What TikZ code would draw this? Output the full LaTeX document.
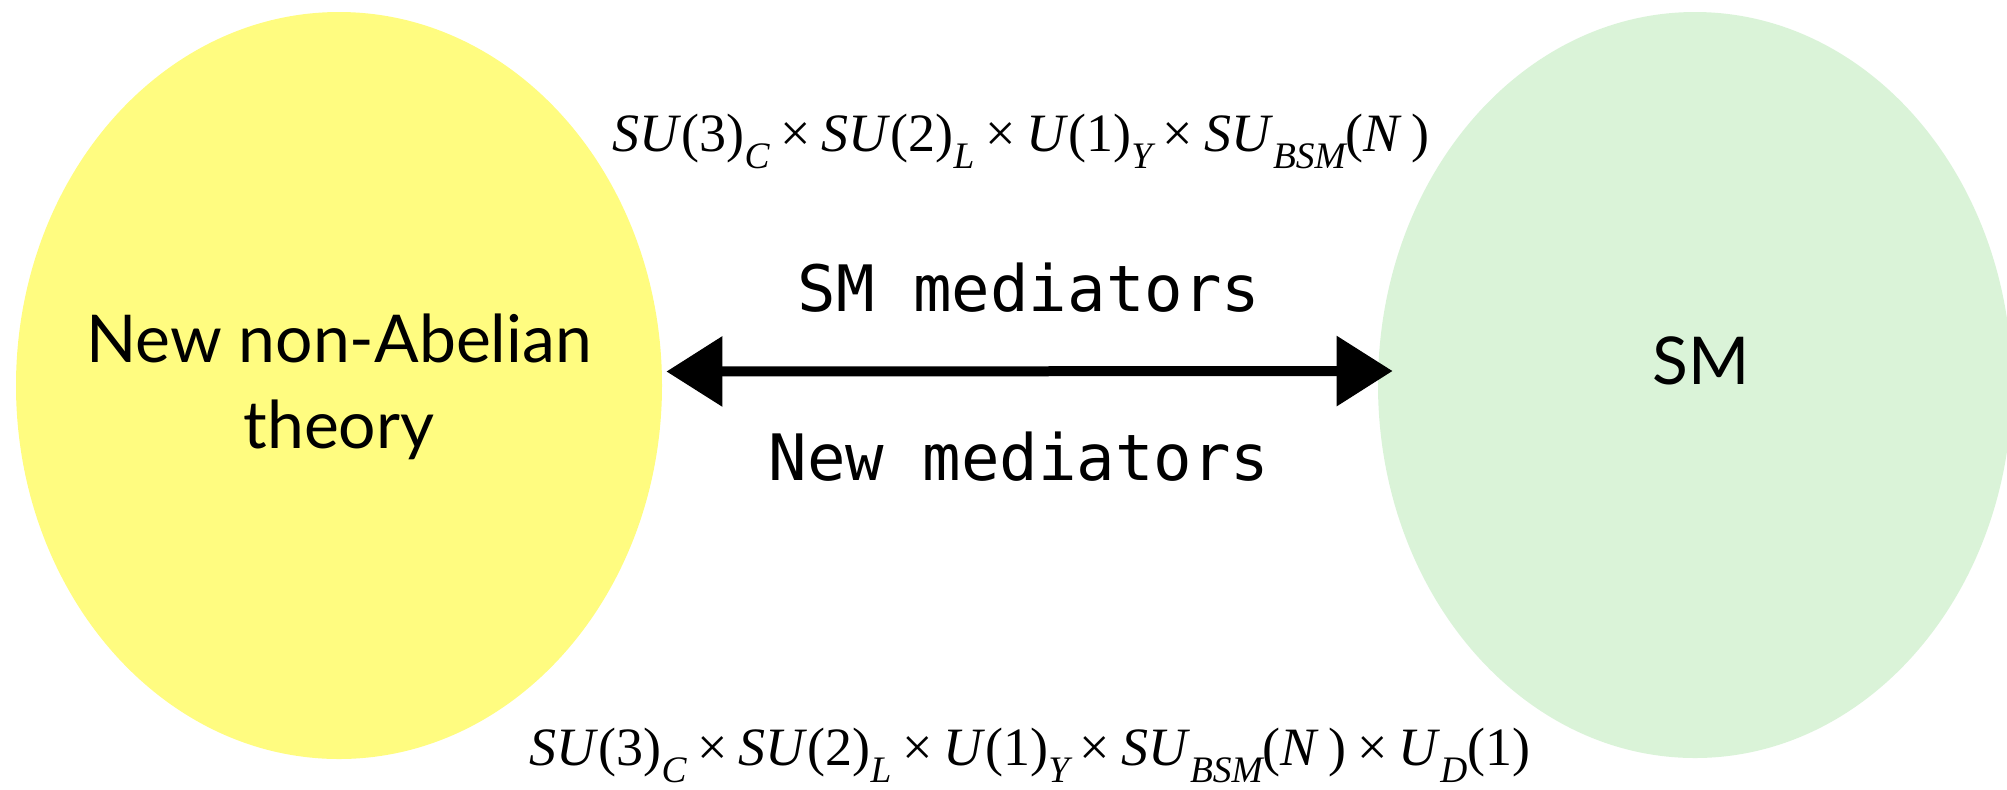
\documentclass[tikz,border=0pt]{standalone}
\usepackage{fontspec}
\usetikzlibrary{shapes.geometric,arrows.meta}
\newfontfamily\sansf{Lato}
\newfontfamily\monof{DejaVu Sans Mono}
\newfontfamily\tmsf{Liberation Serif}
\definecolor{yel}{RGB}{255,252,128}
\definecolor{grn}{RGB}{218,243,216}
\newcommand{\lsub}[1]{\raisebox{-0.33em}{\fontsize{18.7}{20}\selectfont\itshape #1}}
\newcommand{\tx}{\hspace{0.2em}×\hspace{0.2em}}
\tikzset{
  blob/.style={ellipse, draw=none, inner sep=0pt},
  sanslbl/.style={font=\sansf\fontsize{33}{43}\selectfont, inner sep=0pt, anchor=base},
  monolbl/.style={font=\monof\fontsize{32}{38}\selectfont, inner sep=0pt, anchor=base},
  grp/.style={font=\tmsf\fontsize{27}{33}\selectfont, inner sep=0pt, anchor=base},
  arr/.style={line width=5pt, {Triangle[length=28pt,width=34pt]}-{Triangle[length=28pt,width=34pt]}}
}
\begin{document}
\begin{tikzpicture}[x=0.5pt,y=-0.5pt]
\useasboundingbox (0,0) rectangle (2007,789);
\node[blob, fill=yel, minimum width=323pt, minimum height=373.5pt] (L) at (339,385.5) {};
\node[blob, fill=grn, minimum width=317pt, minimum height=373pt] (R) at (1695,385) {};
\node[sanslbl] (lt1) at (339,362) {New non-Abelian};
\node[sanslbl] (lt2) at (339,448) {theory};
\node[sanslbl] (rt) at (1701,384) {SM};
\node[monolbl] (m1) at (1029,311) {SM mediators};
\node[monolbl] (m2) at (1019,480) {New mediators};
\node[grp] (g1) at (1021,151) {\textit{SU}(3)\lsub{C}\tx\textit{SU}(2)\lsub{L}\tx\textit{U}(1)\lsub{Y}\tx\textit{SU}\lsub{BSM}(\textit{N}\,)};
\node[grp] (g2) at (1030,765) {\textit{SU}(3)\lsub{C}\tx\textit{SU}(2)\lsub{L}\tx\textit{U}(1)\lsub{Y}\tx\textit{SU}\lsub{BSM}(\textit{N}\,)\tx\textit{U}\lsub{D}(1)};
\draw[arr] ([shift={(4,-14)}]L.east) -- ([shift={(15,-14)}]R.west);
\end{tikzpicture}
\end{document}
